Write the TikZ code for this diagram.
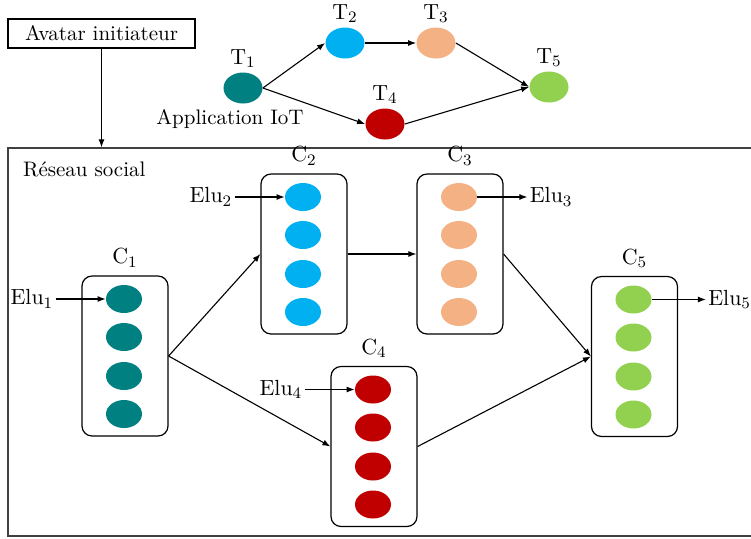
\documentclass[tikz,border=0pt]{standalone}
\usetikzlibrary{arrows.meta, positioning, shapes.geometric, calc}

\definecolor{tealT}{RGB}{0,128,128}
\definecolor{skyT}{RGB}{0,176,240}
\definecolor{peachT}{RGB}{244,177,131}
\definecolor{redT}{RGB}{192,0,0}
\definecolor{greenT}{RGB}{146,208,80}

\begin{document}
\begin{tikzpicture}[x=0.5pt, y=-0.5pt]
\tikzset{% one unit = one pixel of the sketch
  block/.style={rectangle, draw, line width=0.6pt, minimum width=93.5pt, minimum height=14.5pt, inner sep=0pt, font=\fontsize{10.5}{12}\selectfont},
  frame/.style={rectangle, draw=black!75, line width=0.7pt, minimum width=381pt, minimum height=194pt},
  cluster/.style={rectangle, draw, line width=0.6pt, rounded corners=5pt, minimum width=43pt, minimum height=80pt, inner sep=0pt},
  task/.style={ellipse, inner sep=0pt, minimum width=19.5pt, minimum height=15.5pt},
  member/.style={ellipse, inner sep=0pt, minimum width=18pt, minimum height=14pt},
  tag/.style={inner sep=1pt, font=\fontsize{11}{13}\selectfont},
  plain/.style={font=\fontsize{10.5}{12}\selectfont},
  line/.style={draw, line width=0.55pt, -{Latex[length=4pt, width=3pt]}},
}
\useasboundingbox (0,0) rectangle (751,538);
\clip (0,0) rectangle (751,538);

\node[block] (Avatar) at (101.5,33.5) {Avatar initiateur};
\node[frame] (RS) at (389,342) {};
\node[plain, anchor=west] (RSlabel) at (16,169) {Réseau social};

% application IoT
\node[task, fill=tealT] (T1) at (243,88) {};
\node[task, fill=skyT] (T2) at (345,43) {};
\node[task, fill=peachT] (T3) at (436,43) {};
\node[task, fill=redT] (T4) at (385,124) {};
\node[task, fill=greenT] (T5) at (549,87) {};
\foreach \t in {1,...,5}
  \node[tag, above=1pt of T\t] (labT\t) {$\mathrm{T}_{\t}$};
\node[plain] (AppLabel) at (230,119) {Application IoT};

% social network clusters
\node[cluster] (C1) at (125,356) {};
\node[cluster] (C2) at (304,254) {};
\node[cluster] (C3) at (460,254) {};
\node[cluster] (C4) at (374,446.5) {};
\node[cluster] (C5) at (634.5,356.5) {};
\foreach \c/\col in {1/tealT, 2/skyT, 3/peachT, 4/redT, 5/greenT} {
  \node[tag, above=3pt of C\c] (labC\c) {$\mathrm{C}_{\c}$};
  \foreach \k/\dy in {1/-57, 2/-19, 3/20, 4/58}
    \node[member, fill=\col] (C\c-\k) at ($(C\c)+(-1,\dy)$) {};
}

\node[tag, left=25pt of C1-1] (Elu1) {$\mathrm{Elu}_1$};
\node[tag, left=25pt of C2-1] (Elu2) {$\mathrm{Elu}_2$};
\node[tag, right=25pt of C3-1] (Elu3) {$\mathrm{Elu}_3$};
\node[tag, left=25pt of C4-1] (Elu4) {$\mathrm{Elu}_4$};
\node[tag, right=27pt of C5-1] (Elu5) {$\mathrm{Elu}_5$};

\draw[line] (Avatar.south) -- (Avatar.south |- RS.north);

\draw[line] (T1.east) -- (T2.west);
\draw[line] (T1.east) -- (T4.west);
\draw[line] (T2.east) -- (T3.west);
\draw[line] (T3.east) -- (T5.west);
\draw[line] (T4.east) -- (T5.west);

\draw[line] (C1.east) -- (C2.west);
\draw[line] (C1.east) -- (C4.west);
\draw[line] (C2.east) -- (C3.west);
\draw[line] (C3.east) -- (C5.west);
\draw[line] (C4.east) -- (C5.west);

\draw[line] (Elu1.east) -- (C1-1.west);
\draw[line] (Elu2.east) -- (C2-1.west);
\draw[line] (C3-1.east) -- (Elu3.west);
\draw[line] (Elu4.east) -- (C4-1.west);
\draw[line] (C5-1.east) -- (Elu5.west);
\end{tikzpicture}
\end{document}
